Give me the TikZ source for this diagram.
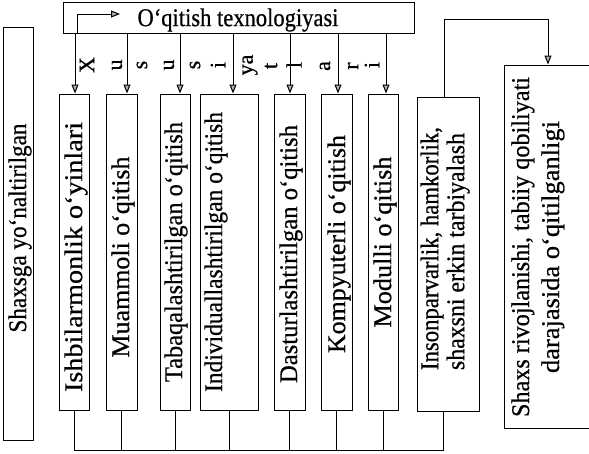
\documentclass[tikz,border=0pt]{standalone}
\usepackage{fontspec}
\setmainfont{Liberation Serif}[FakeBold=0.6]
\usetikzlibrary{arrows.meta}
\newcommand{\fitw}[2]{\resizebox{#1pt}{\height}{#2}}
\newcommand{\vtxt}[2]{\rotatebox{90}{\fitw{#1}{#2}}}
\begin{document}
\begin{tikzpicture}[x=1pt,y=-1pt,
  bx/.style={draw, line width=1pt, inner sep=0pt},
  ln/.style={line width=1pt},
  arr/.style={line width=1pt, -{Triangle[width=7pt,length=9pt,fill=gray!60]}},
  tx/.style={inner sep=0pt, font=\fontsize{25.5}{29}\selectfont},
  lt/.style={inner sep=0pt, font=\fontsize{22}{25}\selectfont, rotate=90}]
\clip (0,0) rectangle (589,453);
\fill[white] (0,0) rectangle (589,453);

% top box
\node[bx, minimum width=351pt, minimum height=31pt] (top) at (238.5,17.5) {};
\node[tx] (ttl) at (238,20) {\fitw{201}{O‘qitish texnologiyasi}};
\coordinate (ia) at (120,14);
\draw[arr] ([xshift=15pt]top.south west) |- (ia);

% left box
\node[bx, minimum width=30pt, minimum height=413pt] (L) at (18,233.5) {};
\node[tx] (Lt) at (20,228) {\vtxt{209}{Shaxsga yo‘naltirilgan}};

% vertical boxes
\node[bx, minimum width=30pt, minimum height=316pt] (b1) at (74,252) {};
\node[bx, minimum width=31pt, minimum height=316pt] (b2) at (121.5,252) {};
\node[bx, minimum width=30pt, minimum height=316pt] (b3) at (175,252) {};
\node[bx, minimum width=58pt, minimum height=316pt] (b4) at (229,252) {};
\node[bx, minimum width=31pt, minimum height=316pt] (b5) at (289.5,252) {};
\node[bx, minimum width=31pt, minimum height=316pt] (b6) at (336.5,252) {};
\node[bx, minimum width=30pt, minimum height=316pt] (b7) at (383,252) {};
\node[bx, minimum width=62pt, minimum height=314pt] (b8) at (448,254) {};
\node[bx, minimum width=116pt, minimum height=363pt] (R) at (562,246.5) {};

% texts
\node[tx] (t1) at (76,257) {\vtxt{270}{Ishbilarmonlik o‘yinlari}};
\node[tx] (t2) at (123,257) {\vtxt{201}{Muammoli o‘qitish}};
\node[tx] (t3) at (176,252) {\vtxt{260}{Tabaqalashtirilgan o‘qitish}};
\node[tx] (t4) at (216,252) {\vtxt{280}{Individuallashtirilgan o‘qitish}};
\node[tx] (t5) at (291,254) {\vtxt{258}{Dasturlashtirilgan o‘qitish}};
\node[tx] (t6) at (339,244) {\vtxt{218}{Kompyuterli o‘qitish}};
\node[tx] (t7) at (385,242) {\vtxt{171}{Modulli o‘qitish}};
\node[tx] (t8) at (446,248.5) {\rotatebox{90}{\fontsize{25.5}{26}\selectfont
  \begin{tabular}{@{}l@{}}\fitw{243}{Insonparvarlik, hamkorlik,}\\
  \fitw{237}{shaxsni erkin tarbiyalash}\end{tabular}}};
\node[tx] (Rt) at (538,247) {\rotatebox{90}{\fontsize{25.5}{30}\selectfont
  \begin{tabular}{@{}c@{}}\fitw{340}{Shaxs rivojlanishi, tabiiy qobiliyati}\\
  \fitw{252}{darajasida o‘qitilganligi}\end{tabular}}};

% letters
\node[lt] (l1) at (87,65) {X};
\node[lt] (l2) at (117,65) {u};
\node[lt] (l3) at (142,65) {s};
\node[lt] (l4) at (169,65) {u};
\node[lt] (l5) at (195,65) {s};
\node[lt] (l6) at (218,65) {i};
\node[lt] (l7) at (250,65) {ya};
\node[lt] (l8) at (271,66) {t};
\node[lt] (l9) at (294,65) {l};
\node[lt] (l10) at (325,66) {a};
\node[lt] (l11) at (353,66) {r};
\node[lt] (l12) at (372,65) {i};

% arrows from top box
\draw[arr] ([xshift=1pt]b1.north |- top.south) -- ([xshift=1pt]b1.north);
\draw[arr] ([xshift=5.5pt]b2.north |- top.south) -- ([xshift=5.5pt]b2.north);
\draw[arr] ([xshift=5pt]b3.north |- top.south) -- ([xshift=5pt]b3.north);
\draw[arr] ([xshift=4pt]b4.north |- top.south) -- ([xshift=4pt]b4.north);
\draw[arr] ([xshift=0.5pt]b5.north |- top.south) -- ([xshift=0.5pt]b5.north);
\draw[arr] ([xshift=1.5pt]b6.north |- top.south) -- ([xshift=1.5pt]b6.north);
\draw[arr] ([xshift=3pt]b7.north |- top.south) -- ([xshift=3pt]b7.north);

% right connector
\coordinate (rc) at (548,19);
\draw[arr] ([xshift=-4pt]b8.north) |- (rc) -- (rc |- R.north);

% bottom bus
\coordinate (bus) at (0,450);
\draw[ln] (b1.south) -- (b1.south |- bus) -- ([xshift=-5pt]b8.south |- bus) -- ([xshift=-5pt]b8.south);
\draw[ln] (b2.south) -- (b2.south |- bus);
\draw[ln] (b3.south) -- (b3.south |- bus);
\draw[ln] (b4.south) -- (b4.south |- bus);
\draw[ln] (b5.south) -- (b5.south |- bus);
\draw[ln] (b6.south) -- (b6.south |- bus);
\draw[ln] (b7.south) -- (b7.south |- bus);
\end{tikzpicture}
\end{document}
